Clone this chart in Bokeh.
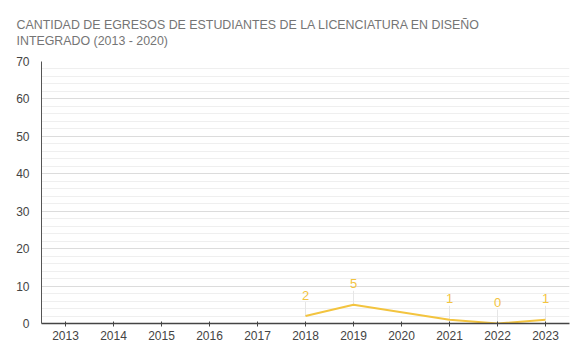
import math
from bokeh.plotting import figure
from bokeh.models import ColumnDataSource, FixedTicker, Range1d, FactorRange, Title
from bokeh.core.properties import value
from bokeh.embed import file_html
from bokeh.resources import INLINE

years = ["2013", "2014", "2015", "2016", "2017", "2018", "2019", "2020", "2021", "2022", "2023"]
data_years = ["2018", "2019", "2021", "2022", "2023"]
egresos = [2, 5, 1, 0, 1]
y_ticks = [0, 10, 20, 30, 40, 50, 60, 70]
title_line1 = "CANTIDAD DE EGRESOS DE ESTUDIANTES DE LA LICENCIATURA EN DISEÑO"
title_line2 = "INTEGRADO (2013 - 2020)"

FONT = "Liberation Sans"
GOLD = "#F3C43F"

p = figure(width=570, height=343, x_range=FactorRange(*years), y_range=Range1d(0, 70),
           output_backend="svg", toolbar_location=None,
           min_border_left=41, min_border_right=1, min_border_top=61, min_border_bottom=20)
p.outline_line_color = None
p.background_fill_color = "white"
p.border_fill_color = "white"
p.x_range.range_padding = 0

p.title = Title(text=title_line1 + "\n" + title_line2, text_font=FONT, text_font_size="12.4px",
                text_font_style="normal", text_color="#757575", offset=-25, standoff=26,
                align="left")
p.title.text_line_height = 1.15

# grid
p.ygrid.ticker = FixedTicker(ticks=y_ticks, minor_ticks=list(range(0, 71, 2)))
p.ygrid.grid_line_color = "#dcdcdc"
p.ygrid.grid_line_width = 1
p.ygrid.minor_grid_line_color = "#efefef"
p.ygrid.minor_grid_line_width = 1
p.xgrid.grid_line_color = None

# axes
p.yaxis.ticker = FixedTicker(ticks=y_ticks)
p.yaxis.axis_line_color = "#555555"
p.yaxis.axis_line_width = 1
p.yaxis.major_tick_line_color = None
p.yaxis.minor_tick_line_color = None
p.yaxis.major_label_text_font = FONT
p.yaxis.major_label_text_font_size = "12px"
p.yaxis.major_label_text_color = "#444444"
p.yaxis.major_label_standoff = 6

p.xaxis.axis_line_color = "#444444"
p.xaxis.axis_line_width = 1.5
p.xaxis.major_tick_line_color = "#444444"
p.xaxis.major_tick_in = 2
p.xaxis.major_tick_out = 3
p.xaxis.minor_tick_line_color = None
p.xaxis.major_label_text_font = FONT
p.xaxis.major_label_text_font_size = "12px"
p.xaxis.major_label_text_color = "#444444"
p.xaxis.major_label_standoff = 4

src = ColumnDataSource(dict(x=data_years, y=egresos, lbl=[str(v) for v in egresos]))

# faint leader lines from each point up to its label
p.ray(x="x", y="y", source=src, length=14, length_units="screen", angle=math.pi / 2,
      line_color="#e6e6e6", line_width=1)

p.line(x="x", y="y", source=src, line_color=GOLD, line_width=2)
p.text(x="x", y="y", text="lbl", source=src, text_align="center", text_baseline="middle",
       y_offset=-21, text_color=GOLD, text_font_size="13px", text_font=value(FONT))

open("out.html", "w").write(file_html(p, INLINE))
